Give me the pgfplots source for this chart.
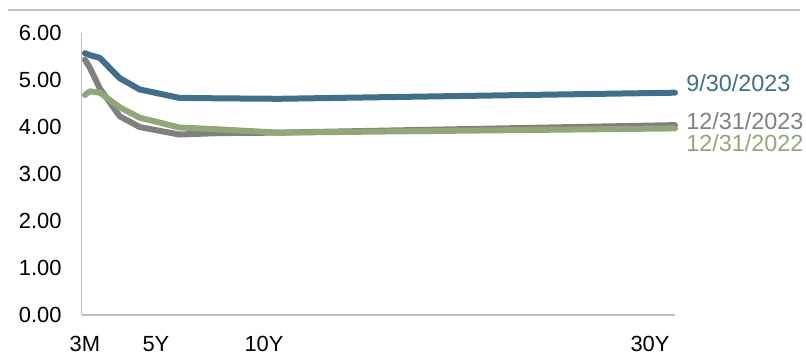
\documentclass[border=0pt]{standalone}
\usepackage{fontspec}
\setmainfont{Liberation Sans}
\usepackage{pgfplots}
\pgfplotsset{compat=1.18}
\definecolor{cblue}{RGB}{64,111,139}
\definecolor{cgray}{RGB}{128,128,128}
\definecolor{cgreen}{RGB}{145,167,120}
\definecolor{axgray}{RGB}{191,191,191}
\begin{document}
\begin{tikzpicture}
\begin{axis}[
 scale only axis, width=593.3bp, height=282bp,
 at={(0,0)}, anchor=south west,
 xmin=0.086, xmax=30, ymin=0, ymax=6,
 axis x line*=bottom, axis y line*=left,
 axis line style={draw=axgray, line width=1.5bp, -},
 xtick={0.25,3.83,9.28,28.74}, xticklabels={3M,5Y,10Y,30Y},
 ytick={0,1,2,3,4,5,6},
 major tick length=0pt,
 tick style={draw=none},
 /pgf/number format/assume math mode=true,
 yticklabel style={/pgf/number format/fixed, /pgf/number format/fixed zerofill, /pgf/number format/precision=2},
 ticklabel style={font=\fontsize{22}{22}\selectfont, text=black, inner sep=0pt},
 yticklabel style={anchor=east, xshift=-20bp},
 xticklabel style={anchor=north, yshift=-21bp},
 clip=false,
 every axis plot/.append style={line width=6bp, line join=round, line cap=round, mark=none},
]
\addplot[cgray] coordinates {(0.25,5.43) (0.5,5.26) (1,4.82) (2,4.23) (3,4.00) (5,3.84) (7,3.87) (10,3.88) (30,4.04)};
\addplot[cgreen] coordinates {(0.25,4.68) (0.5,4.76) (1,4.73) (2,4.42) (3,4.20) (5,3.99) (7,3.95) (10,3.88) (30,3.97)};
\addplot[cblue] coordinates {(0.25,5.57) (0.5,5.53) (1,5.47) (2,5.04) (3,4.80) (5,4.62) (7,4.61) (10,4.60) (30,4.73)};
\node[anchor=west, inner sep=0pt, text=cblue, font=\fontsize{23.5}{23.5}\selectfont] at (axis cs:30.56,4.94) {9/30/2023};
\node[anchor=west, inner sep=0pt, text=cgray, font=\fontsize{23.5}{23.5}\selectfont] at (axis cs:30.56,4.13) {12/31/2023};
\node[anchor=west, inner sep=0pt, text=cgreen, font=\fontsize{23.5}{23.5}\selectfont] at (axis cs:30.56,3.66) {12/31/2022};
\end{axis}
\draw[axgray, line width=1.5bp] (-73.7bp,305bp) -- (718.3bp,305bp);
\pgfresetboundingbox
\path[use as bounding box] (-81.7bp,-43bp) rectangle (724.3bp,315bp);
\end{tikzpicture}
\end{document}
